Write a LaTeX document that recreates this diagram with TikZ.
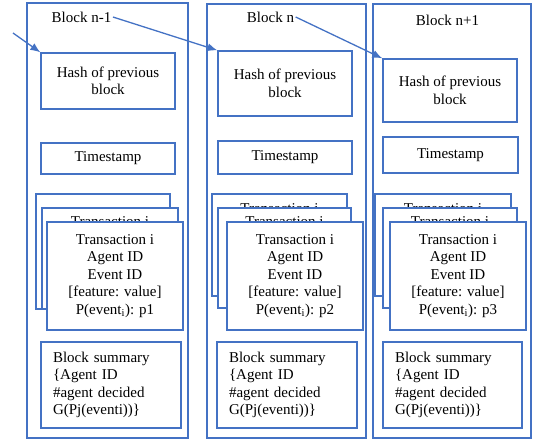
\documentclass[tikz,border=0pt]{standalone}
\usepackage{fontspec}
\setmainfont{Liberation Serif}
\usetikzlibrary{arrows.meta,positioning}
\definecolor{boxblue}{RGB}{68,114,196}
\newcommand{\transtext}[1]{Transaction i\\Agent ID\\Event ID\\{[feature: value]}\\P(event\textsubscript{i}): #1}

\begin{document}
\begin{tikzpicture}[
x=1pt, y=-1pt, >={Latex[length=10pt,width=8pt]}, line width=1.3pt,
block-node/.style = {rectangle,draw=boxblue,inner sep=0pt},
item-node/.style = {rectangle,draw=boxblue,fill=white,align=center,inner sep=2pt,font=\fontsize{15}{17.5}\selectfont},
sum-node/.style = {item-node,align=left,inner xsep=12pt,text width=116pt,minimum height=86pt},
title-node/.style = {inner sep=1pt,font=\fontsize{15}{17.5}\selectfont}
]
\useasboundingbox (0,0) rectangle (536,440);

% blocks
\node [block-node, minimum width=161pt, minimum height=435pt] (blk1) at (107.5,220.5) {};
\node [block-node, minimum width=159pt, minimum height=434pt] (blk2) at (286.5,221) {};
\node [block-node, minimum width=158pt, minimum height=434pt] (blk3) at (452,221) {};

% labels
\node [title-node] (title1) at (81.5,17) {Block n-1};
\node [title-node] (title2) at (270.5,17) {Block n};
\node [title-node] (title3) at (447.5,20) {Block n+1};

% hash and time
\node [item-node, minimum width=134pt, minimum height=56pt] (hash1) at (108,81) {Hash of previous\\block};
\node [item-node, minimum width=134pt, minimum height=65pt] (hash2) at (285,83.5) {Hash of previous\\block};
\node [item-node, minimum width=134pt, minimum height=63pt] (hash3) at (450,90.5) {Hash of previous\\block};

\node [item-node, minimum width=134pt, minimum height=31pt] (time1) at (108,158.5) {Timestamp};
\node [item-node, minimum width=134pt, minimum height=33pt] (time2) at (285,157.5) {Timestamp};
\node [item-node, minimum width=135pt, minimum height=36pt] (time3) at (450.5,155) {Timestamp};

% transactions
\node [item-node, minimum width=134pt, minimum height=115pt] (tx1a) at (103,251.5) {\transtext{p1}};
\node [item-node, minimum width=136pt, minimum height=101pt] (tx1b) at (110,258.5) {\transtext{p1}};
\node [item-node, minimum width=136pt, minimum height=108pt] (tx1c) at (115,276) {\transtext{p1}};

\node [item-node, minimum width=135pt, minimum height=102pt] (tx2a) at (279.5,245) {\transtext{p2}};
\node [item-node, minimum width=133pt, minimum height=100pt] (tx2b) at (284.5,258) {\transtext{p2}};
\node [item-node, minimum width=136pt, minimum height=108pt] (tx2c) at (295,276) {\transtext{p2}};

\node [item-node, minimum width=136pt, minimum height=102pt] (tx3a) at (443,245) {\transtext{p3}};
\node [item-node, minimum width=134pt, minimum height=100pt] (tx3b) at (450,258) {\transtext{p3}};
\node [item-node, minimum width=136pt, minimum height=108pt] (tx3c) at (458,276) {\transtext{p3}};

% summaries
\node [sum-node] (sum1) at (111,385) {Block summary\\\{Agent ID\\\#agent decided\\G(Pj(eventi))\}};
\node [sum-node] (sum2) at (287,385) {Block summary\\\{Agent ID\\\#agent decided\\G(Pj(eventi))\}};
\node [sum-node, text width=115pt] (sum3) at (452.5,385) {Block summary\\\{Agent ID\\\#agent decided\\G(Pj(eventi))\}};

% arrows
\coordinate (in-link) at (13,33);
\draw[->, boxblue] (in-link) -- (hash1.north west);
\draw[->, boxblue] (title1.east) -- (hash2.north west);
\draw[->, boxblue] (title2.east) -- (hash3.north west);

\end{tikzpicture}
\end{document}
